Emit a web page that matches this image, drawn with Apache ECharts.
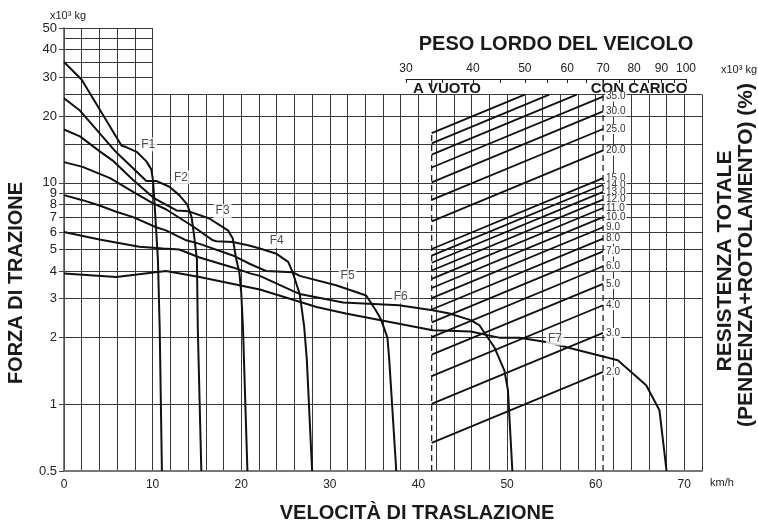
<!DOCTYPE html>
<html><head><meta charset="utf-8">
<script src="https://cdn.jsdelivr.net/npm/echarts@6/dist/echarts.min.js"></script>
<style>html,body{margin:0;padding:0;background:#fff}#c{width:758px;height:526px}</style>
</head><body><div id="c"></div>
<script>
const L = Math.log10;
// ---------- data ----------
const speedMin = 0, speedMax = 72, speedStep = 2, speedLabelStep = 10;
const forceMin = 0.5, forceMax = 50, boxTopForce = 25, boxSplitSpeed = 10;
const forceLabels = [0.5,1,2,3,4,5,6,7,8,9,10,20,30,40,50];
const forceGridLower = [0.5,1,2,3,4,5,6,7,8,9,10,15,20,25];
const forceGridUpper = [25,30,35,40,45,50];
const weightMin = 30, weightMax = 100;
const weightLabels = [30,40,50,60,70,80,90,100];
const weightTicks = [30,35,40,45,50,55,60,65,70,75,80,85,90,95,100];
const emptyWeight = 33.5, loadedWeight = 70;
const resistances = [50,45,40,35,30,25,20,15,14,13,12,11,10,9,8,7,6,5,4,3,2];
const maxLabelledResistance = 35;
const gearNames = ['F1','F2','F3','F4','F5','F6','F7'];
const F1 = [[0,35.1],[2.0,29.2],[6.5,14.7],[7.0,14.5],[8.2,13.8],[9.3,12.5],[9.85,11.5],[10.05,10.2],[10.2,8.3],[10.6,4.5],[10.8,2.2],[11.05,0.5]];
const F2 = [[0,24.1],[1.8,21.2],[5.7,14.0],[9.3,10.2],[10.4,10.2],[11.9,9.6],[13.0,8.8],[13.9,8.0],[14.4,7.0],[14.7,5.7],[15.0,4.5],[15.1,2.2],[15.5,0.5]];
const F3 = [[0,17.4],[1.8,16.2],[4.0,13.9],[5.5,12.6],[7.8,10.3],[10.2,8.5],[12.7,7.5],[14.0,7.45],[16.4,6.9],[18.5,6.1],[19.05,5.6],[19.4,4.6],[19.8,3.9],[20.0,3.2],[20.2,2.2],[20.7,0.5]];
const F4 = [[0,12.4],[2.1,11.8],[5.2,10.5],[7.8,9.1],[10.0,8.1],[11.5,7.6],[14.7,6.3],[16.8,5.5],[17.2,5.45],[19.05,5.4],[21.0,5.2],[22.1,5.05],[23.9,4.8],[25.3,4.4],[25.8,3.95],[26.6,3.15],[27.1,2.25],[27.4,1.6],[28.0,0.5]];
const F5 = [[0,8.8],[2.1,8.35],[4.0,7.9],[5.9,7.4],[7.8,7.0],[10.4,6.3],[11.5,6.1],[13.8,5.5],[15.3,5.3],[19.05,4.7],[21.0,4.3],[22.8,4.0],[25.8,3.95],[26.6,3.8],[30.7,3.45],[34.1,3.1],[35.2,2.65],[35.8,2.4],[36.5,2.0],[36.7,1.6],[37.5,0.5]];
const F6 = [[0,6.0],[4.0,5.55],[8.5,5.15],[11.2,5.05],[13.0,5.0],[15.3,4.6],[19.05,4.15],[21.0,3.9],[22.1,3.8],[25.8,3.25],[26.6,3.15],[31.5,2.88],[37.8,2.8],[41.6,2.66],[43.5,2.57],[45.9,2.4],[46.9,2.27],[48.6,1.8],[49.7,1.42],[50.1,1.16],[50.6,0.5]];
const F7 = [[0,3.9],[5.9,3.76],[11.5,4.0],[15.3,3.76],[22.1,3.3],[28.5,2.75],[31.8,2.57],[37.8,2.31],[41.6,2.16],[45.9,2.13],[49.1,2.0],[51.4,2.0],[54.4,1.91],[62.5,1.58],[65.7,1.22],[67.2,0.94],[68.0,0.5]];
const gears = [F1,F2,F3,F4,F5,F6,F7];
const gearLabelAt = [[9.5,14.9],[13.2,10.6],[17.9,7.46],[24.0,5.46],[32.0,3.82],[38.0,3.07],[55.4,1.98]];

// ---------- layout ----------
const G = {left:64, top:28, width:638, height:443};
const lowerTop = G.top + G.height*(L(forceMax)-L(boxTopForce))/(L(forceMax)-L(forceMin));
const upperWidth = G.width*(boxSplitSpeed-speedMin)/(speedMax-speedMin);
const W = {left:406, width:280};
const FONT = '"Liberation Sans", Arial, sans-serif';
const gridColor = '#383838';
const fmtForce = v => { const x = Math.pow(10, v); return x < 1 ? x.toFixed(1) : String(Math.round(x)); };

const hidden = {axisLine:{show:false}, axisLabel:{show:false}};
const split = {show:true, lineStyle:{color:gridColor, width:1}};

const option = {
  animation:false,
  backgroundColor:'#fff',
  textStyle:{fontFamily:FONT},
  grid:[
    {left:G.left, top:G.top, width:G.width, height:G.height},
    {left:G.left, top:lowerTop, width:G.width, height:G.top+G.height-lowerTop},
    {left:G.left, top:G.top, width:upperWidth, height:lowerTop-G.top},
    {left:W.left, top:79, width:W.width, height:8},
    {left:W.left, top:G.top, width:W.width, height:G.height}
  ],
  xAxis:[
    {gridIndex:0, type:'value', min:speedMin, max:speedMax, interval:speedStep,
     axisLine:{show:true, onZero:false, lineStyle:{color:'#777', width:2}}, axisTick:{show:false}, splitLine:{show:false},
     axisLabel:{interval:0, margin:8, fontSize:12, color:'#222', formatter:v => v % speedLabelStep === 0 ? String(v) : ''}},
    Object.assign({gridIndex:1, type:'value', min:speedMin, max:speedMax, interval:speedStep, axisTick:{show:false}, splitLine:split}, hidden),
    Object.assign({gridIndex:2, type:'value', min:speedMin, max:boxSplitSpeed, interval:speedStep, axisTick:{show:false}, splitLine:split}, hidden),
    {gridIndex:3, type:'value', position:'top', min:L(weightMin), max:L(weightMax),
     axisLine:{show:true, onZero:false, lineStyle:{color:'#222', width:1}},
     axisTick:{show:true, inside:true, length:4, customValues:weightTicks.map(L), lineStyle:{color:'#222'}},
     axisLabel:{customValues:weightLabels.map(L), margin:4, fontSize:12, color:'#222', formatter:v => String(Math.round(Math.pow(10, v)))},
     splitLine:{show:false}},
    Object.assign({gridIndex:4, type:'value', min:L(weightMin), max:L(weightMax), axisTick:{show:false}, splitLine:{show:false}}, hidden)
  ],
  yAxis:[
    {gridIndex:0, type:'value', min:L(forceMin), max:L(forceMax),
     axisLine:{show:true, onZero:false, lineStyle:{color:'#555', width:1.5}},
     axisTick:{show:true, length:5, customValues:forceLabels.map(L), lineStyle:{color:'#444'}},
     axisLabel:{customValues:forceLabels.map(L), margin:7, fontSize:13, color:'#222', formatter:fmtForce},
     splitLine:{show:false}},
    Object.assign({gridIndex:1, type:'value', min:L(forceMin), max:L(boxTopForce), axisTick:{show:true, length:0, customValues:forceGridLower.map(L)}, splitLine:split}, hidden),
    Object.assign({gridIndex:2, type:'value', min:L(boxTopForce), max:L(forceMax), axisTick:{show:true, length:0, customValues:forceGridUpper.map(L)}, splitLine:split}, hidden),
    {gridIndex:3, type:'value', min:0, max:1, show:false},
    Object.assign({gridIndex:4, type:'value', min:L(forceMin), max:L(forceMax), axisTick:{show:false}, splitLine:{show:false}}, hidden)
  ],
  series:[],
  graphic:[]
};

// traction curves
gears.forEach((g, i) => option.series.push({
  type:'line', name:gearNames[i], xAxisIndex:0, yAxisIndex:0, symbol:'none', silent:true, z:5,
  data:g.map(([s, f]) => [s, L(f)]), lineStyle:{color:'#111', width:2}
}));
// gear labels
option.series.push({
  type:'scatter', xAxisIndex:0, yAxisIndex:0, symbol:'circle', symbolSize:2, silent:true, z:10,
  itemStyle:{color:'rgba(255,255,255,0)'},
  data:gearNames.map((n, i) => ({name:n, value:[gearLabelAt[i][0], L(gearLabelAt[i][1])]})),
  label:{show:true, position:'inside', formatter:p => p.name, fontSize:12, color:'#222', backgroundColor:'#fff', padding:[1,2]}
});
// resistance lines (force = weight * resistance %)
resistances.forEach(r => {
  const endW = Math.min(loadedWeight, boxTopForce*100/r);
  option.series.push({
    type:'line', xAxisIndex:4, yAxisIndex:4, symbol:'none', silent:true, z:6,
    data:[[L(emptyWeight), L(emptyWeight*r/100)], [L(endW), L(endW*r/100)]],
    lineStyle:{color:'#111', width:1.8},
    endLabel:{show:r <= maxLabelledResistance, formatter:r.toFixed(1), distance:2, fontSize:10, color:'#333', backgroundColor:'#fff', padding:[0,1]}
  });
});
// dashed empty / loaded lines
option.series.push({
  type:'line', xAxisIndex:4, yAxisIndex:4, symbol:'none', silent:true, z:4,
  data:[[L(emptyWeight), L(forceMin)], [L(emptyWeight), L(emptyWeight*resistances[0]/100)]],
  lineStyle:{color:'#222', width:1.3, type:[6,4]}
});
option.series.push({
  type:'line', xAxisIndex:4, yAxisIndex:4, symbol:'none', silent:true, z:4,
  data:[[L(loadedWeight), L(forceMin)], [L(loadedWeight), L(boxTopForce)]],
  lineStyle:{color:'#222', width:1.3, type:[6,4]}
});
// long ticks on weight axis
[emptyWeight, loadedWeight].forEach(w => option.series.push({
  type:'line', xAxisIndex:3, yAxisIndex:3, symbol:'none', silent:true,
  data:[[L(w), 0], [L(w), 1]], lineStyle:{color:'#222', width:1.2}
}));

const txt = (text, x, y, font, extra) => Object.assign({type:'text', x:x, y:y, silent:true,
  style:{text:text, x:0, y:0, textAlign:'center', textVerticalAlign:'middle', font:font, fill:'#1a1a1a'}}, extra || {});
option.graphic = [
  txt('x10³ kg', 68, 16, '11px ' + FONT),
  txt('x10³ kg', 739, 70, '11px ' + FONT),
  txt('km/h', 722, 483, '11px ' + FONT),
  txt('PESO LORDO DEL VEICOLO', 556, 44, 'bold 20px ' + FONT),
  txt('A VUOTO', 447, 89, 'bold 15px ' + FONT),
  txt('CON CARICO', 639, 89, 'bold 15px ' + FONT),
  txt('VELOCITÀ DI TRASLAZIONE', 417, 513, 'bold 20px ' + FONT),
  txt('FORZA DI TRAZIONE', 16, 283, 'bold 20px ' + FONT, {rotation:Math.PI/2}),
  txt('RESISTENZA TOTALE', 725, 261, 'bold 21px ' + FONT, {rotation:Math.PI/2}),
  txt('(PENDENZA+ROTOLAMENTO) (%)', 746, 255, 'bold 21px ' + FONT, {rotation:Math.PI/2})
];

const chart = echarts.init(document.getElementById('c'), null, {renderer:'canvas'});
chart.setOption(option);
</script></body></html>
